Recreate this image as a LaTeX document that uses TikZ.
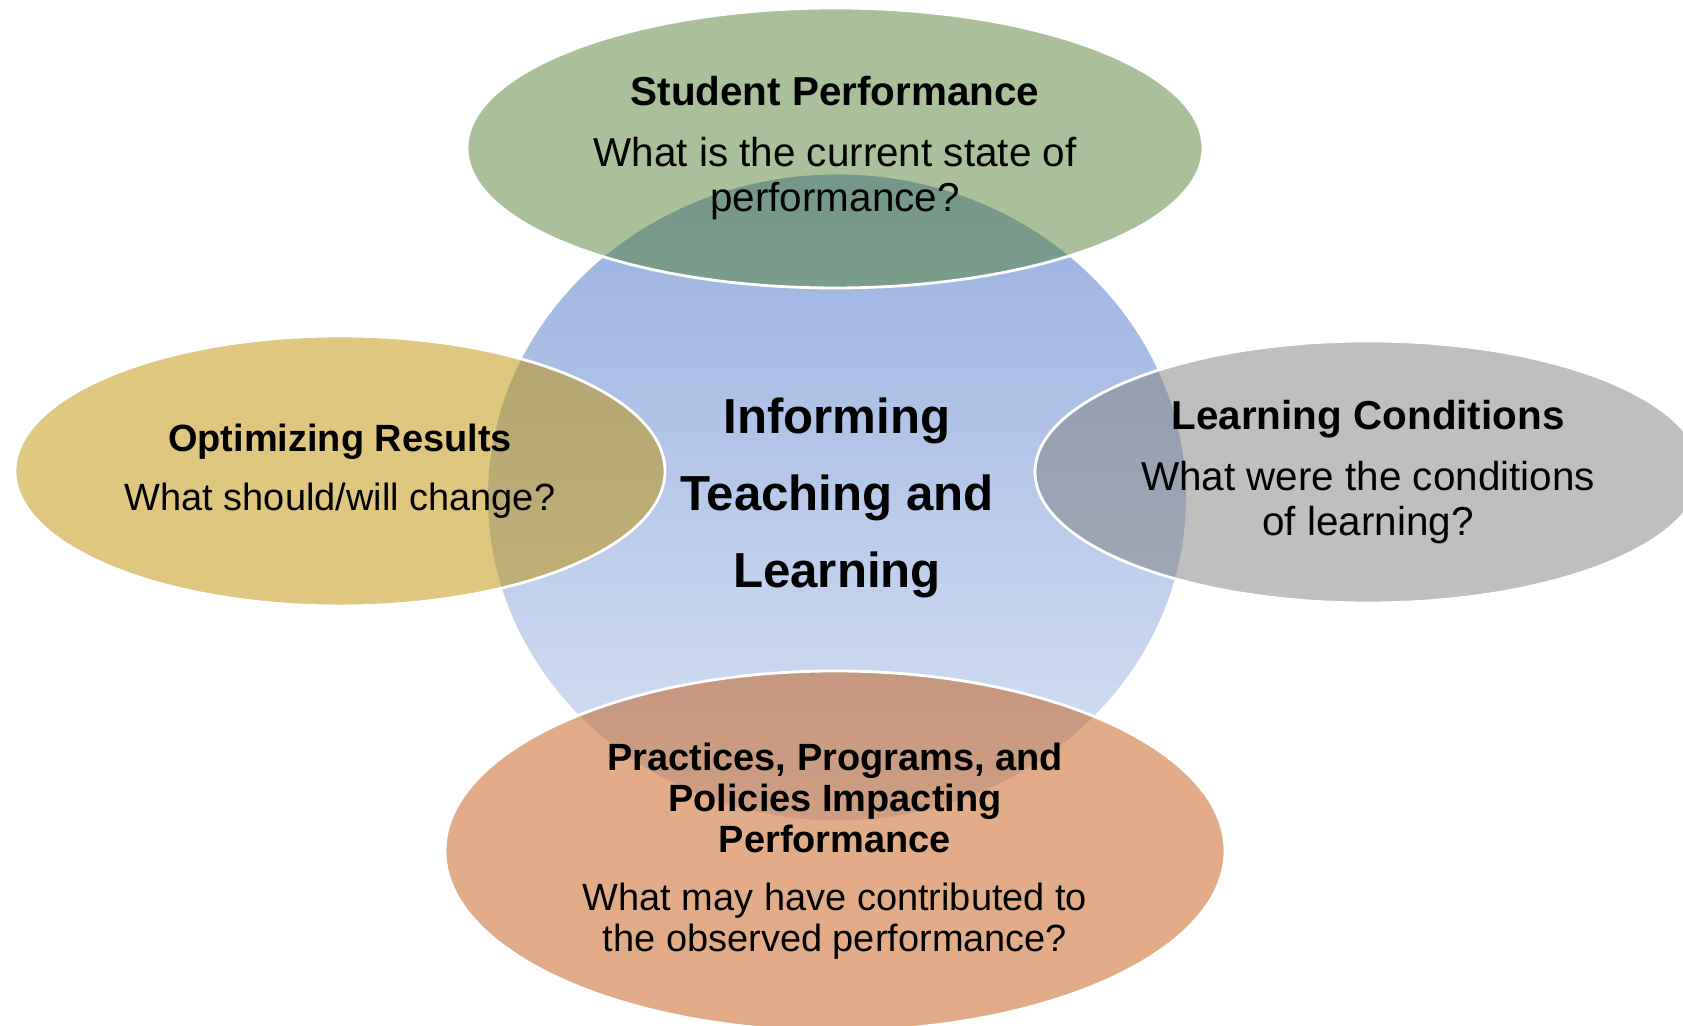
\documentclass[tikz,border=0pt]{standalone}
\usepackage{fontspec}
\setmainfont{Liberation Sans}
\usepackage{xcolor}
\usetikzlibrary{shapes.geometric}

\definecolor{greenfill}{RGB}{83,129,53}
\definecolor{goldfill}{RGB}{191,143,0}
\definecolor{grayfill}{RGB}{127,127,127}
\definecolor{orangefill}{RGB}{197,90,17}
\definecolor{hubtop}{RGB}{152,176,224}
\definecolor{hubbottom}{RGB}{216,226,244}

\begin{document}
\begin{tikzpicture}[
	petal/.style={ellipse, draw=white, line width=0.8pt, fill opacity=0.5,
		text opacity=1, align=center, inner sep=0pt},
	bigtext/.style={font=\fontsize{11.5}{12.8}\selectfont},
	smalltext/.style={font=\fontsize{10.8}{11.6}\selectfont}]
	\useasboundingbox (0,0) rectangle (16.83,10.26);
	
	% Central shape
	\node[ellipse, minimum width=6.98cm, minimum height=6.46cm, inner sep=0pt,
		top color=hubtop, bottom color=hubbottom, align=center,
		font=\fontsize{14}{21.9}\selectfont\bfseries]
		(hub) at (8.37,5.285) {Informing\\Teaching and\\Learning};
	
	% Four ellipses around it
	\node[petal, bigtext, fill=greenfill, minimum width=7.36cm, minimum height=2.80cm]
		(perf) at (8.35,8.78)
		{\textbf{Student Performance}\\[4.6pt]What is the current state of\\performance?};
	\node[petal, smalltext, fill=goldfill, minimum width=6.50cm, minimum height=2.70cm]
		(results) at (3.40,5.55)
		{\textbf{Optimizing Results}\\[5.2pt]What should/will change?};
	\node[petal, bigtext, fill=grayfill, minimum width=6.66cm, minimum height=2.62cm]
		(conditions) at (13.68,5.54)
		{\textbf{Learning Conditions}\\[4.6pt]What were the conditions\\of learning?};
	\node[petal, smalltext, fill=orangefill, minimum width=7.80cm, minimum height=3.60cm]
		(practices) at (8.35,1.75)
		{\textbf{Practices, Programs, and}\\\textbf{Policies Impacting}\\\textbf{Performance}\\[5pt]
		What may have contributed to\\the observed performance?};
\end{tikzpicture}
\end{document}
